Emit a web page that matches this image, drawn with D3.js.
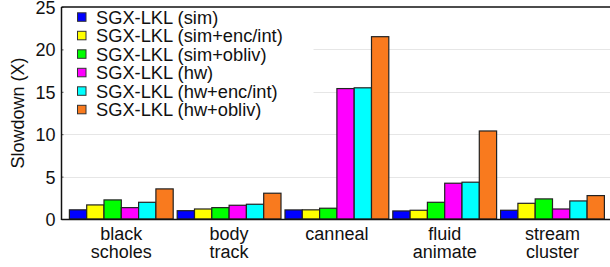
<!DOCTYPE html>
<html><head><meta charset="utf-8">
<script src="https://cdn.jsdelivr.net/npm/d3@7"></script>
<style>html,body{margin:0;padding:0;background:#fff;} text{font-family:"Liberation Sans",Arial,Helvetica,sans-serif;fill:#111;}</style>
</head><body>
<svg id="c" width="610" height="267"></svg>
<script>
const categories = ["black\nscholes", "body\ntrack", "canneal", "fluid\nanimate", "stream\ncluster"];
const seriesNames = ["SGX-LKL (sim)", "SGX-LKL (sim+enc/int)", "SGX-LKL (sim+obliv)", "SGX-LKL (hw)", "SGX-LKL (hw+enc/int)", "SGX-LKL (hw+obliv)"];
const seriesColors = ["#0000ff", "#ffff00", "#00ff00", "#ff00ff", "#00ffff", "#f97a1e"];
const simValues      = [1.08, 0.98, 1.07, 0.95, 1.03];
const simEncValues   = [1.66, 1.18, 1.08, 1.03, 1.85];
const simOblivValues = [2.25, 1.34, 1.27, 1.97, 2.37];
const hwValues       = [1.34, 1.62, 15.38, 4.22, 1.18];
const hwEncValues    = [1.97, 1.74, 15.47, 4.34, 2.13];
const hwOblivValues  = [3.55, 3.04, 21.5, 10.38, 2.76];
const yTicks = [0, 5, 10, 15, 20, 25];

(function () {
const series = [simValues, simEncValues, simOblivValues, hwValues, hwEncValues, hwOblivValues];
const svg = d3.select("#c");
const mLeft = 61.5, mRight = 610, mTop = 7, mBottom = 219;

const y = d3.scaleLinear().domain([0, 25]).range([mBottom, mTop]);
const x0 = d3.scaleBand().domain(d3.range(categories.length)).range([67.4, 606.4]).padding(0);
const x1 = d3.scaleBand().domain(d3.range(series.length)).range([2, x0.bandwidth() - 2]).padding(0);

// gridlines
svg.append("g").selectAll("line").data(yTicks.filter(t => t > 0 && t < 25)).join("line")
  .attr("x1", mLeft).attr("x2", mRight)
  .attr("y1", d => Math.round(y(d)) + 0.5).attr("y2", d => Math.round(y(d)) + 0.5)
  .attr("stroke", "#e6e6e6").attr("stroke-width", 1);

// bars
const g = svg.append("g");
categories.forEach((c, i) => {
  series.forEach((s, j) => {
    g.append("rect")
      .attr("x", x0(i) + x1(j))
      .attr("y", y(s[i]))
      .attr("width", x1.bandwidth())
      .attr("height", y(0) - y(s[i]))
      .attr("fill", seriesColors[j])
      .attr("stroke", "#222").attr("stroke-width", 1.2);
  });
});

// legend background
svg.append("rect").attr("x", mLeft + 1).attr("y", mTop + 1).attr("width", 251).attr("height", 118).attr("fill", "#fff");
const lg = svg.append("g");
seriesNames.forEach((n, j) => {
  const cy = 17.3 + j * 18.5;
  lg.append("rect").attr("x", 77.5).attr("y", cy - 4.5).attr("width", 8.5).attr("height", 8.5)
    .attr("fill", seriesColors[j]).attr("stroke", "#333").attr("stroke-width", 1);
  lg.append("text").attr("x", 96).attr("y", cy + 6.5).attr("font-size", "18.3px").text(n);
});

// axes
const yAxis = d3.axisLeft(y).tickValues(yTicks).tickSize(-2).tickPadding(6);
const ya = svg.append("g").attr("transform", `translate(${mLeft},0)`).call(yAxis);
ya.select(".domain").remove();
ya.selectAll(".tick line").attr("stroke", "#555");
ya.selectAll(".tick text").attr("font-size", "18px").attr("font-family", "Liberation Sans, Arial, sans-serif").attr("fill", "#111").attr("dy", "0.36em");

svg.append("line").attr("x1", mLeft).attr("x2", mLeft).attr("y1", mTop).attr("y2", mBottom + 1).attr("stroke", "#111").attr("stroke-width", 1.5);
svg.append("line").attr("x1", mLeft).attr("x2", mRight).attr("y1", mBottom + 0.5).attr("y2", mBottom + 0.5).attr("stroke", "#111").attr("stroke-width", 1.5);
svg.append("line").attr("x1", mLeft).attr("x2", mRight).attr("y1", mTop).attr("y2", mTop).attr("stroke", "#111").attr("stroke-width", 1.5);

// x labels
categories.forEach((c, i) => {
  const cx = x0(i) + x0.bandwidth() / 2;
  const t = svg.append("text").attr("text-anchor", "middle").attr("font-size", "18px").attr("x", cx);
  c.split("\n").forEach((line, k) => {
    t.append("tspan").attr("x", cx).attr("y", 239.5 + k * 18.4).text(line);
  });
});

// y title
svg.append("text").attr("transform", `translate(24,${(mTop + mBottom) / 2}) rotate(-90)`)
  .attr("text-anchor", "middle").attr("font-size", "18px").text("Slowdown (X)");
})();
</script>
</body></html>
